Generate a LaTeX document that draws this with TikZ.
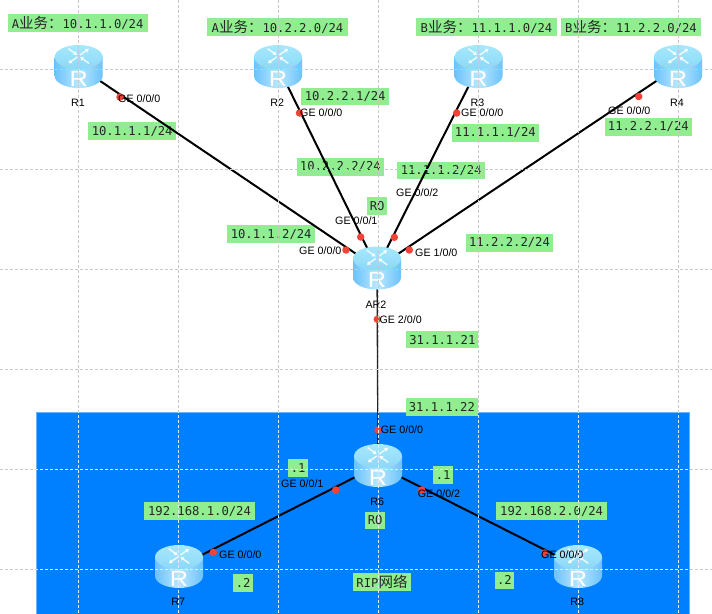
\documentclass[tikz,border=0pt]{standalone}
\usepackage{fontspec}
\setmainfont{Liberation Sans}
\setmonofont{DejaVu Sans Mono}
\newfontfamily\cjkfam{Noto Sans CJK SC}
\usetikzlibrary{arrows.meta}
\definecolor{labgreen}{HTML}{90EE90}
\definecolor{netblue}{HTML}{0080FF}
\definecolor{netedge}{HTML}{66B3FF}
\definecolor{dotred}{HTML}{F44336}
\definecolor{gridgray}{HTML}{C8C8C8}
\definecolor{gridlight}{HTML}{E4ECF4}
\definecolor{rtop}{HTML}{A6E8FC}
\definecolor{rtopb}{HTML}{8CD8F8}
\definecolor{rside}{HTML}{6CC2FA}
\definecolor{rmid}{HTML}{B8E8FF}
\newcommand{\cjktxt}[1]{{\cjkfam\fontsize{14.5}{16}\selectfont #1}}
\tikzset{
  labbox/.style={fill=labgreen,inner sep=0pt,outer sep=0pt,text=black!85,
    font=\ttfamily\fontsize{12.2}{14}\selectfont},
  portlab/.style={anchor=west,inner sep=0pt,text=black,font=\fontsize{10.7}{12}\selectfont},
  rname/.style={inner sep=0pt,text=black,font=\fontsize{10.7}{12}\selectfont},
  portdot/.style={circle,fill=dotred,inner sep=0pt,minimum size=7.5pt},
  link/.style={draw=black,line width=2pt},
  thinlink/.style={draw=black!85,line width=1.3pt},
  routerhub/.style={inner sep=0pt,minimum width=48pt,minimum height=43pt},
  gridline/.style={dash pattern=on 3pt off 2pt,line width=0.7pt},
  ricon/.style={draw=white,draw opacity=.8,line width=1.5pt,-{Latex[length=3.5pt,width=5pt]}}
}
\newcommand{\labelbox}[6]{%
  \node[labbox,minimum width={(#4-#2)*1pt},minimum height={(#5-#3)*1pt}] (#1)
    at ({(#2+#4)/2},{(#3+#5)/2}) {#6};}
\newcommand{\routerhubat}[3]{\node[routerhub] (#1) at (#2,#3) {};}
\newcommand{\routerart}[3]{%
  \begin{scope}[shift={(#2,#3)},x=1pt,y=1pt]
    \shade[left color=rside,right color=rside,middle color=rmid]
      (-24,9.5) -- (-24,-9.5) arc[start angle=180,end angle=360,x radius=24,y radius=12]
      -- (24,9.5) -- cycle;
    \shade[top color=rtop,bottom color=rtopb] (0,9.5) ellipse[x radius=24,y radius=12];
    \begin{scope}[shift={(0,10.5)},yscale=.6]
      \draw[ricon] (50:2)--(50:16);
      \draw[ricon] (230:2)--(230:16);
      \draw[ricon] (130:16)--(130:2);
      \draw[ricon] (310:16)--(310:2);
    \end{scope}
    \node[inner sep=0pt,text=white,font=\fontsize{22}{24}\selectfont,xscale=1.15] (#1-mark) at (0,-12) {R};
  \end{scope}}
\begin{document}
\begin{tikzpicture}[x=1pt,y=-1pt]
\useasboundingbox (0,0) rectangle (712,613);
\fill[white] (0,0) rectangle (712,613);
\path[fill=netblue,draw=netedge,line width=0.8pt] (36,412) rectangle (689.5,614);

\labelbox{a1}{7.5}{14.3}{147.7}{32}{A\cjktxt{业务：}10.1.1.0/24}
\labelbox{a2}{207.3}{18.3}{347.7}{35.7}{A\cjktxt{业务：}10.2.2.0/24}
\labelbox{b1}{416}{18.3}{557}{35.7}{B\cjktxt{业务：}11.1.1.0/24}
\labelbox{b2}{560.7}{18.3}{701.3}{35.7}{B\cjktxt{业务：}11.2.2.0/24}
\labelbox{l1}{88.3}{122.3}{176}{140}{10.1.1.1/24}
\labelbox{l2}{301.3}{87.7}{389}{105}{10.2.2.1/24}
\labelbox{l3}{451.7}{124.3}{539}{141.7}{11.1.1.1/24}
\labelbox{l4}{604.7}{118}{692}{135.7}{11.2.2.1/24}
\labelbox{l5}{296.7}{158}{384}{175.7}{10.2.2.2/24}
\labelbox{l6}{397.3}{161.7}{485}{179}{11.1.1.2/24}
\labelbox{l7}{367.3}{197.3}{387}{215}{RO}
\labelbox{l8}{227.3}{225.3}{315}{243}{10.1.1.2/24}
\labelbox{l9}{465.7}{234}{553.3}{252}{11.2.2.2/24}
\labelbox{l10}{406.3}{331}{478.3}{348.3}{31.1.1.21}
\labelbox{l11}{405.7}{398.3}{478}{415.7}{31.1.1.22}
\labelbox{l12}{288.3}{459.3}{308}{477}{.1}
\labelbox{l13}{433.3}{466.3}{453}{484}{.1}
\labelbox{l14}{144.3}{502.3}{254.7}{520}{192.168.1.0/24}
\labelbox{l15}{496.3}{502.3}{607}{520}{192.168.2.0/24}
\labelbox{l16}{365.3}{511.7}{385}{529}{RO}
\labelbox{l17}{233.3}{574.3}{253}{592}{.2}
\labelbox{l18}{353.3}{573.3}{410.7}{591}{RIP\cjktxt{网络}}
\labelbox{l19}{494.7}{571.7}{514}{589}{.2}

\routerhubat{r1}{78.7}{66.5}
\routerhubat{r2}{278}{66.5}
\routerhubat{r3}{478.5}{66.5}
\routerhubat{r4}{678}{66.5}
\routerhubat{ar2}{377}{268}
\routerhubat{r6}{378}{465.5}
\routerhubat{r7}{179}{566.5}
\routerhubat{r8}{578}{566.5}

\draw[link] (r1.center) -- (ar2.center);
\draw[link] (r2.center) -- (ar2.center);
\draw[link] (r3.center) -- (ar2.center);
\draw[link] (r4.center) -- (ar2.center);
\draw[thinlink] (ar2.center) -- (r6.center);
\draw[link] (r6.center) -- (r7.center);
\draw[link] (r6.center) -- (r8.center);

\node[portdot] (d1) at (120,97) {};
\node[portdot] (d2) at (299.5,113) {};
\node[portdot] (d3) at (456.7,113) {};
\node[portdot] (d4) at (638.7,96.5) {};
\node[portdot] (d5) at (346,250) {};
\node[portdot] (d6) at (360.7,237) {};
\node[portdot] (d7) at (394.3,237.3) {};
\node[portdot] (d8) at (409.3,250) {};
\node[portdot] (d9) at (377.3,319.3) {};
\node[portdot] (d10) at (378,430) {};
\node[portdot] (d11) at (335.7,490) {};
\node[portdot] (d12) at (421.7,490) {};
\node[portdot] (d13) at (213.3,552.3) {};
\node[portdot] (d14) at (544.7,553) {};

\routerart{r1}{78.7}{66.5}
\routerart{r2}{278}{66.5}
\routerart{r3}{478.5}{66.5}
\routerart{r4}{678}{66.5}
\routerart{ar2}{377}{268}
\routerart{r6}{378}{465.5}
\routerart{r7}{179}{566.5}
\routerart{r8}{578}{566.5}

\node[rname] (n1) at (78,102.5) {R1};
\node[rname] (n2) at (277.3,102.5) {R2};
\node[rname] (n3) at (477.5,102.5) {R3};
\node[rname] (n4) at (677,102.5) {R4};
\node[rname] (n5) at (376,304.7) {AR2};
\node[rname] (n6) at (377.3,501.7) {R6};
\node[rname] (n7) at (178.3,602.3) {R7};
\node[rname] (n8) at (577.3,602.3) {R8};

\node[portlab] (p1) at (118,98.7) {GE 0/0/0};
\node[portlab] (p2) at (300,113) {GE 0/0/0};
\node[portlab] (p3) at (461,113) {GE 0/0/0};
\node[portlab] (p4) at (608,111) {GE 0/0/0};
\node[portlab] (p5) at (299,251) {GE 0/0/0};
\node[portlab] (p6) at (335,221) {GE 0/0/1};
\node[portlab] (p7) at (396,193) {GE 0/0/2};
\node[portlab] (p8) at (415,253) {GE 1/0/0};
\node[portlab] (p9) at (379.3,320) {GE 2/0/0};
\node[portlab] (p10) at (380.7,430) {GE 0/0/0};
\node[portlab] (p11) at (281,484) {GE 0/0/1};
\node[portlab] (p12) at (417.7,493.3) {GE 0/0/2};
\node[portlab] (p13) at (219,555) {GE 0/0/0};
\node[portlab] (p14) at (541,555) {GE 0/0/0};

% page grid, lying over everything
\begin{scope}
  \clip (0,0) rectangle (712,412) (0,412) rectangle (36,613) (689.5,412) rectangle (712,613);
  \foreach \gx in {78.5,178.5,...,678.5}{\draw[gridline,draw=gridgray] (\gx,0) -- (\gx,613);}
  \foreach \gy in {69.5,169.5,...,569.5}{\draw[gridline,draw=gridgray] (0,\gy) -- (712,\gy);}
\end{scope}
\begin{scope}
  \clip (36,412) rectangle (689.5,613);
  \foreach \gx in {78.5,178.5,...,678.5}{\draw[gridline,draw=gridlight] (\gx,0) -- (\gx,613);}
  \foreach \gy in {69.5,169.5,...,569.5}{\draw[gridline,draw=gridlight] (0,\gy) -- (712,\gy);}
\end{scope}
\end{tikzpicture}
\end{document}
